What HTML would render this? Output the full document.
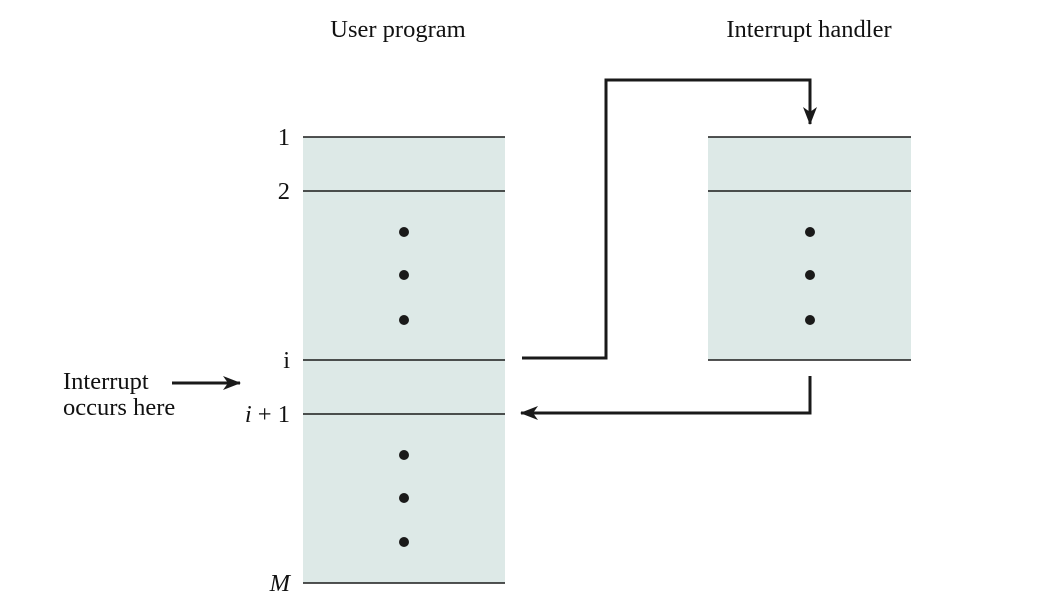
<!DOCTYPE html>
<html><head><meta charset="utf-8"><style>
body{margin:0;background:#fff;}
svg text{font-family:"Liberation Serif",serif;font-size:24.5px;fill:#111;}
</style></head><body>
<svg width="1040" height="610" viewBox="0 0 1040 610">
<defs><marker id="ah" markerWidth="18" markerHeight="14" refX="17" refY="7" orient="auto" markerUnits="userSpaceOnUse"><path d="M0,0 L18,7 L0,14 L5,7 Z" fill="#1a1a1a"/></marker></defs>
<text x="398" y="37" text-anchor="middle">User program</text>
<text x="809" y="37" text-anchor="middle">Interrupt handler</text>
<g>
<rect x="303" y="137" width="202" height="446" fill="#dde9e7"/>
<g stroke="#1a1a1a" stroke-width="1.5">
<line x1="303" y1="137" x2="505" y2="137"/><line x1="303" y1="191" x2="505" y2="191"/>
<line x1="303" y1="360" x2="505" y2="360"/><line x1="303" y1="414" x2="505" y2="414"/>
<line x1="303" y1="583" x2="505" y2="583"/></g>
<g fill="#1a1a1a"><circle cx="404" cy="232" r="5"/><circle cx="404" cy="275" r="5"/><circle cx="404" cy="320" r="5"/>
<circle cx="404" cy="455" r="5"/><circle cx="404" cy="498" r="5"/><circle cx="404" cy="542" r="5"/></g>
</g>
<text x="290" y="145" text-anchor="end">1</text>
<text x="290" y="199" text-anchor="end">2</text>
<text x="290" y="368" text-anchor="end">i</text>
<text x="290" y="422" text-anchor="end"><tspan font-style="italic">i</tspan> + 1</text>
<text x="290" y="591" text-anchor="end" font-style="italic">M</text>
<g>
<rect x="708" y="137" width="203" height="223" fill="#dde9e7"/>
<g stroke="#1a1a1a" stroke-width="1.5">
<line x1="708" y1="137" x2="911" y2="137"/><line x1="708" y1="191" x2="911" y2="191"/><line x1="708" y1="360" x2="911" y2="360"/></g>
<g fill="#1a1a1a"><circle cx="810" cy="232" r="5"/><circle cx="810" cy="275" r="5"/><circle cx="810" cy="320" r="5"/></g>
</g>
<text x="63" y="389">Interrupt</text>
<text x="63" y="415">occurs here</text>
<g fill="none" stroke="#1a1a1a" stroke-width="3">
<line x1="172" y1="383" x2="240" y2="383" marker-end="url(#ah)"/>
<polyline points="522,358 606,358 606,80 810,80 810,124" marker-end="url(#ah)"/>
<polyline points="810,376 810,413 521,413" marker-end="url(#ah)"/>
</g>
</svg>
</body></html>
